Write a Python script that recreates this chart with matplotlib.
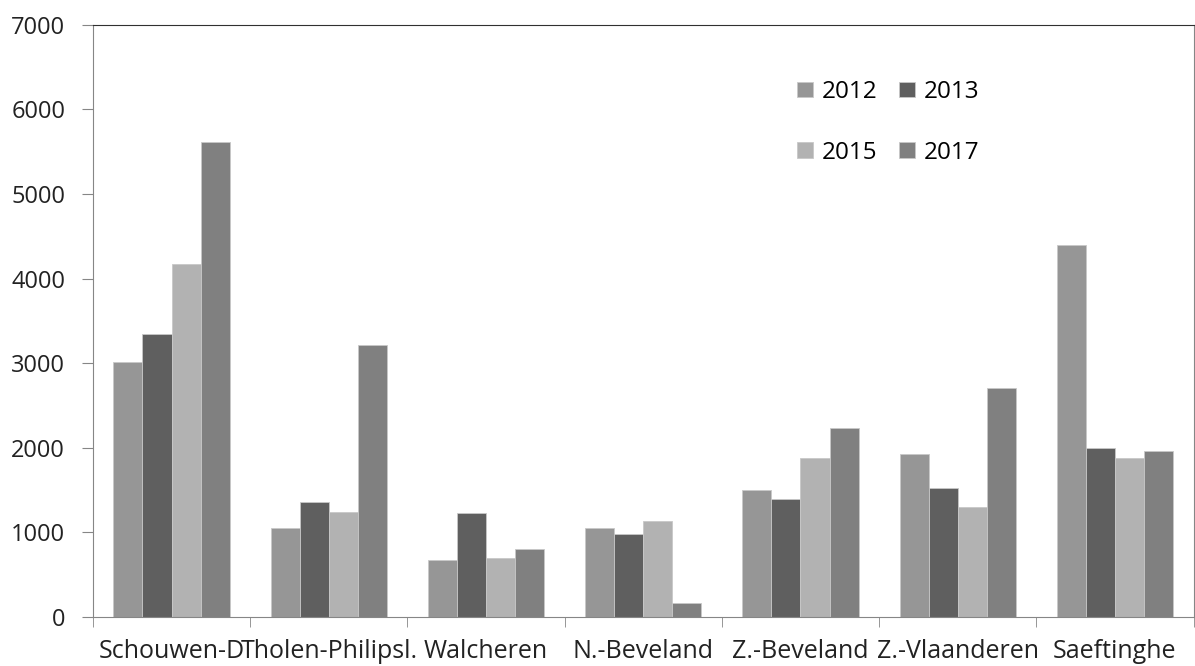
import matplotlib
matplotlib.use('Agg')
import matplotlib.pyplot as plt
import numpy as np

# ==================== 数据 ====================
regions = ["Schouwen-D", "Tholen-Philipsl.", "Walcheren", "N.-Beveland",
           "Z.-Beveland", "Z.-Vlaanderen", "Saeftinghe"]
years = ["2012", "2013", "2015", "2017"]
v2012 = [3010, 1050, 675, 1050, 1500, 1930, 4400]
v2013 = [3345, 1360, 1230, 980, 1400, 1530, 2000]
v2015 = [4170, 1240, 700, 1130, 1880, 1300, 1880]
v2017 = [5615, 3215, 800, 170, 2230, 2710, 1960]

COLORS = ["#969696", "#5f5f5f", "#b2b2b2", "#808080"]

plt.rcParams['font.family'] = ['Open Sans', 'DejaVu Sans']

fig = plt.figure(figsize=(11.95, 6.66), dpi=100)
ax = fig.add_axes([0.0778, 0.0736, 0.921, 0.889])

x = np.arange(len(regions))
width = 0.185
series = [v2012, v2013, v2015, v2017]
handles = []
for i, (vals, col) in enumerate(zip(series, COLORS)):
    b = ax.bar(x + (i - 1.5) * width, vals, width, color=col,
               edgecolor='#c8c8c8', linewidth=0.6, label=years[i])
    handles.append(b)

ax.set_xlim(-0.5, len(regions) - 0.5)
ax.set_ylim(0, 7000)
ax.set_yticks(range(0, 7001, 1000))
ax.tick_params(axis='y', labelsize=17, length=8, color='#868686', pad=12,
               labelcolor='#222222')

# 类别标签居中，刻度线在类别之间
ax.set_xticks(x)
ax.set_xticklabels(regions, fontsize=18, color='#222222')
ax.tick_params(axis='x', which='major', length=0, pad=16)
ax.set_xticks(np.arange(-0.5, len(regions)), minor=True)
ax.tick_params(axis='x', which='minor', length=7, color='#868686')

for s in ['left', 'right', 'bottom']:
    ax.spines[s].set_color('#868686')
ax.spines['top'].set_color('#303030')

order = [0, 2, 1, 3]
ax.legend([handles[k] for k in order], [years[k] for k in order],
          ncol=2, frameon=False, fontsize=17.5, borderpad=0,
          loc='upper left', bbox_to_anchor=(0.629, 0.927),
          handlelength=0.65, handleheight=0.6, handletextpad=0.35,
          columnspacing=0.9, labelspacing=1.5)

fig.savefig('out.png', dpi=100, facecolor='white')
